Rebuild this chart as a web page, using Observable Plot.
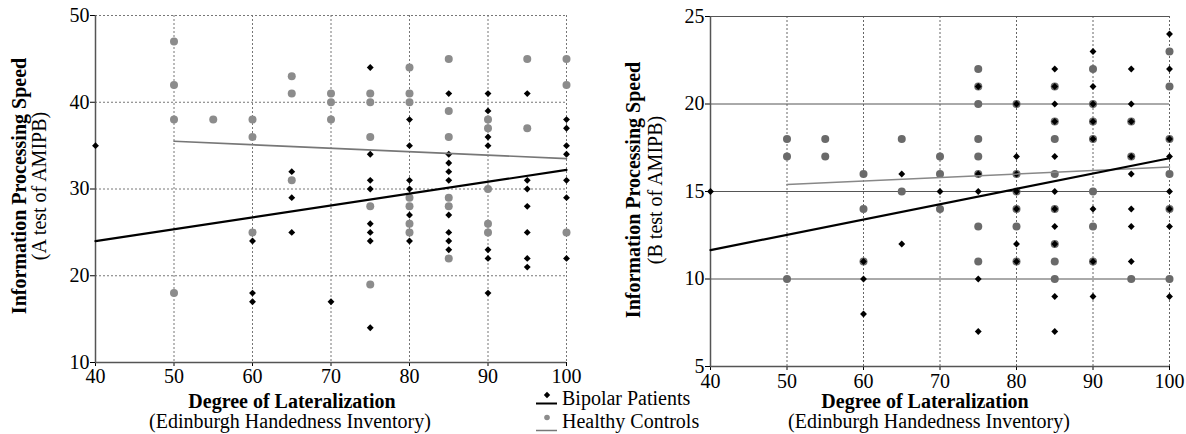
<!DOCTYPE html>
<html><head><meta charset="utf-8">
<script src="https://cdn.jsdelivr.net/npm/d3@7"></script>
<script src="https://cdn.jsdelivr.net/npm/@observablehq/plot@0.6"></script>
<style>
body{margin:0;background:#fff}
#wrap{position:relative;width:1186px;height:434px;overflow:hidden;background:#fff}
#a,#b{position:absolute;top:0}
#a{left:0}
#b{left:600px}
#a svg, #b svg, #a svg text, #b svg text, #a svg g, #b svg g{font-family:"Liberation Serif","Times New Roman",serif !important;font-size:20px !important;font-variant:normal !important}
#overlay{position:absolute;left:0;top:0;pointer-events:none}
</style></head><body>
<div id="wrap"><div id="a"></div><div id="b"></div></div>
<script>
// ---- ticks ----
const xTicks = [40, 50, 60, 70, 80, 90, 100];
const yTicksA = [10, 20, 30, 40, 50];
const yTicksB = [5, 10, 15, 20, 25];

// ---- Panel A: A test of AMIPB  [lateralization, score] ----
const bipolarA = [
  [40,35],
  [60,24],[60,18],[60,17],
  [65,32],[65,29],[65,25],
  [70,17],
  [75,44],[75,34],[75,31],[75,30],[75,26],[75,25],[75,24],[75,14],
  [80,38],[80,35],[80,31],[80,30],[80,27],[80,24],
  [85,41],[85,34],[85,33],[85,32],[85,31],[85,27],[85,25],[85,24],[85,23],
  [90,41],[90,39],[90,36],[90,35],[90,23],[90,22],[90,18],
  [95,41],[95,31],[95,30],[95,28],[95,25],[95,22],[95,21],
  [100,38],[100,37],[100,35],[100,34],[100,31],[100,29],[100,22]
];
const healthyA = [
  [50,47],[50,42],[50,38],[50,18],
  [55,38],
  [60,38],[60,36],[60,25],
  [65,43],[65,41],[65,31],
  [70,41],[70,40],[70,38],
  [75,41],[75,40],[75,36],[75,28],[75,19],
  [80,44],[80,41],[80,40],[80,29],[80,28],[80,26],[80,25],
  [85,45],[85,39],[85,36],[85,29],[85,28],[85,22],
  [90,38],[90,37],[90,30],[90,26],[90,25],
  [95,45],[95,37],
  [100,45],[100,42],[100,25]
];
const fitBipolarA = [[40,24.0],[100,32.2]];
const fitHealthyA = [[50,35.5],[100,33.5]];

// ---- Panel B: B test of AMIPB ----
const bipolarB = [
  [40,15],
  [60,11],[60,10],[60,8],
  [65,16],[65,12],
  [70,15],
  [75,21],[75,16],[75,15],[75,10],[75,7],
  [80,20],[80,17],[80,16],[80,15],[80,14],[80,12],[80,11],
  [85,22],[85,21],[85,20],[85,19],[85,17],[85,15],[85,14],[85,13],[85,12],[85,9],[85,7],
  [90,23],[90,21],[90,20],[90,19],[90,18],[90,14],[90,11],[90,9],
  [95,22],[95,20],[95,19],[95,17],[95,16],[95,14],[95,13],[95,11],
  [100,24],[100,22],[100,18],[100,17],[100,15],[100,14],[100,13],[100,9]
];
const healthyB = [
  [50,18],[50,17],[50,10],
  [55,18],[55,17],
  [60,16],[60,14],[60,11],
  [65,18],[65,15],
  [70,17],[70,16],[70,14],
  [75,22],[75,21],[75,20],[75,18],[75,17],[75,16],[75,13],[75,11],
  [80,20],[80,16],[80,15],[80,14],[80,13],[80,11],
  [85,21],[85,19],[85,18],[85,16],[85,14],[85,12],[85,11],[85,10],
  [90,22],[90,20],[90,19],[90,18],[90,15],[90,13],[90,11],
  [95,19],[95,17],[95,10],
  [100,23],[100,21],[100,18],[100,16],[100,14],[100,10]
];
const fitBipolarB = [[40,11.65],[100,16.9]];
const fitHealthyB = [[50,15.4],[100,16.4]];

const legendItems = ["Bipolar Patients", "Healthy Controls"];

const px = d => d[0], py = d => d[1];
const style = "font-family: 'Liberation Serif', 'Times New Roman', serif; font-size: 20px; color: #000; background: transparent; overflow: visible;";

const plotA = Plot.plot({
  width: 600, height: 434,
  marginLeft: 95, marginRight: 34, marginTop: 15, marginBottom: 72,
  x: {domain: [40, 100], ticks: xTicks, tickSize: 4, tickPadding: 2, label: null},
  y: {domain: [10, 50], ticks: yTicksA, tickSize: 5, tickPadding: 1, label: null},
  style,
  marks: [
    Plot.ruleX(xTicks.slice(1), {stroke: "#777", strokeDasharray: "2,2", strokeWidth: 1}),
    Plot.ruleY(yTicksA.slice(1), {stroke: "#777", strokeDasharray: "2,2", strokeWidth: 1}),
    Plot.ruleX([40], {stroke: "#555", strokeWidth: 1.5}),
    Plot.ruleY([10], {stroke: "#555", strokeWidth: 1.5}),
    Plot.dot(healthyA, {x: px, y: py, r: 4, fill: "#8c8c8c"}),
    Plot.dot(bipolarA, {x: px, y: py, r: 3.1, symbol: "diamond2", fill: "#000"}),
    Plot.line(fitHealthyA, {x: px, y: py, stroke: "#777", strokeWidth: 1.6}),
    Plot.line(fitBipolarA, {x: px, y: py, stroke: "#000", strokeWidth: 2.2})
  ]
});
document.getElementById("a").appendChild(plotA);

const plotB = Plot.plot({
  width: 586, height: 434,
  marginLeft: 110, marginRight: 17, marginTop: 16, marginBottom: 68,
  x: {domain: [40, 100], ticks: xTicks, tickSize: 4, tickPadding: 3, label: null},
  y: {domain: [5, 25], ticks: yTicksB, tickSize: 5, tickPadding: 1, label: null},
  style,
  marks: [
    Plot.ruleX(xTicks.slice(1), {stroke: "#666", strokeDasharray: "2,2", strokeWidth: 1}),
    Plot.ruleY(yTicksB.slice(1), {stroke: "#555", strokeWidth: 1}),
    Plot.ruleX([40], {stroke: "#555", strokeWidth: 1.5}),
    Plot.ruleY([5], {stroke: "#555", strokeWidth: 1.5}),
    Plot.dot(healthyB, {x: px, y: py, r: 4, fill: "#6a6a6a"}),
    Plot.dot(bipolarB, {x: px, y: py, r: 3.1, symbol: "diamond2", fill: "#000"}),
    Plot.line(fitHealthyB, {x: px, y: py, stroke: "#888", strokeWidth: 1.6}),
    Plot.line(fitBipolarB, {x: px, y: py, stroke: "#000", strokeWidth: 2.2})
  ]
});
document.getElementById("b").appendChild(plotB);

// ---- overlay: axis titles & legend ----
const svg = d3.select("#wrap").append("svg").attr("id", "overlay")
  .attr("width", 1186).attr("height", 434)
  .style("font-family", "'Liberation Serif', 'Times New Roman', serif").style("font-size", "20px");

function ytitle(x1, x2, cy, sub) {
  svg.append("text").attr("transform", `translate(${x1},${cy}) rotate(-90)`)
    .attr("text-anchor", "middle").attr("font-weight", "bold").text("Information Processing Speed");
  svg.append("text").attr("transform", `translate(${x2},${cy}) rotate(-90)`)
    .attr("text-anchor", "middle").text(sub);
}
function xtitle(cx, cx2) {
  svg.append("text").attr("x", cx).attr("y", 408).attr("text-anchor", "middle")
    .attr("font-weight", "bold").text("Degree of Lateralization");
  svg.append("text").attr("x", cx2).attr("y", 428).attr("text-anchor", "middle")
    .text("(Edinburgh Handedness Inventory)");
}
ytitle(26, 46, 186, "(A test of AMIPB)");
ytitle(640, 662, 190, "(B test of AMIPB)");
xtitle(292, 290);
xtitle(925, 929);

// legend
const lg = svg.append("g");
const d2 = d3.symbol(d3.symbolDiamond2, 26)();
lg.append("path").attr("d", d2).attr("transform", "translate(547,395)").attr("fill", "#000");
lg.append("line").attr("x1", 536).attr("x2", 557).attr("y1", 403.5).attr("y2", 403.5).attr("stroke", "#000").attr("stroke-width", 2);
lg.append("circle").attr("cx", 547).attr("cy", 417.5).attr("r", 2.8).attr("fill", "#8c8c8c");
lg.append("line").attr("x1", 536).attr("x2", 557).attr("y1", 430.5).attr("y2", 430.5).attr("stroke", "#777").attr("stroke-width", 1.5);
lg.append("text").attr("x", 562).attr("y", 405).text(legendItems[0]);
lg.append("text").attr("x", 562).attr("y", 428).text(legendItems[1]);
</script>
</body></html>
